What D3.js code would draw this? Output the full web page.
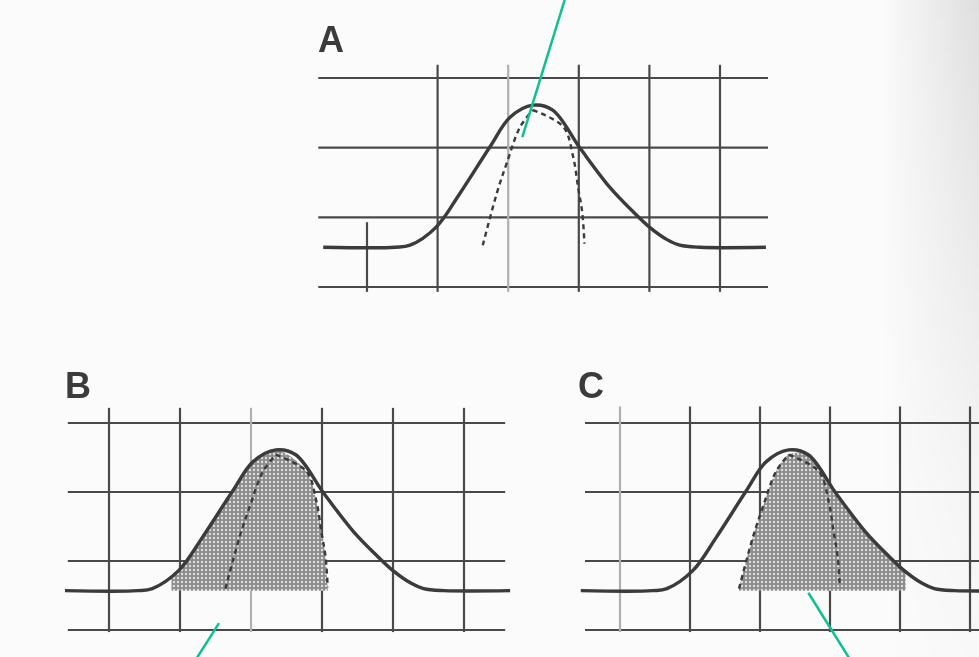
<!DOCTYPE html>
<html>
<head>
<meta charset="utf-8">
<script src="https://cdn.jsdelivr.net/npm/d3@7"></script>
<style>
  html, body { margin: 0; padding: 0; background: #fbfbfb; }
  svg { display: block; }
</style>
</head>
<body>
<svg id="chart" width="979" height="657"></svg>
<script>
// Broad bell-shaped response curve, in grid units (u across, v up)
const mainCurve = [
  [-0.62, 0.57], [0.40, 0.57], [0.61, 0.60], [0.98, 0.86], [1.32, 1.35],
  [1.74, 2.01], [2.03, 2.44], [2.35, 2.61], [2.63, 2.54], [3.02, 1.99],
  [3.44, 1.43], [3.77, 1.08], [4.00, 0.86], [4.25, 0.68], [4.43, 0.60],
  [4.72, 0.57], [5.65, 0.57]
];
// Narrow dashed curve sitting inside the broad one
const narrowLeft  = [[1.64, 0.60], [1.84, 1.35], [1.98, 1.78], [2.17, 2.30], [2.35, 2.54]];
const narrowRight = [[2.35, 2.54], [2.78, 2.30], [2.92, 1.87], [2.99, 1.43], [3.05, 1.06], [3.08, 0.62]];
const baseline = 0.57;

// Grid ticks
const uTicks = [0, 1, 2, 3, 4, 5];
const vTicks = [0, 1, 2, 3];

// Panel letters, which part of the curve is shaded, and the u-range of the shading
const panelNames = ["A", "B", "C"];
const shadedPart = [null, "left", "right"];
const shadedRange = [null, [0.88, 3.2], [1.5, 4.02]];

// Leader lines [panel, fromU, fromV, toU, toV]
const leaders = [
  ["A", 2.80, 4.12, 2.20, 2.15],
  ["B", 1.55, 0.10, 1.21, -0.45],
  ["C", 2.69, 0.54, 3.30, -0.45]
];

const svg = d3.select("#chart");
const defs = svg.append("defs");

// halftone screen used for the shading
const pat = defs.append("pattern").attr("id", "screen")
  .attr("patternUnits", "userSpaceOnUse").attr("width", 4).attr("height", 4);
pat.append("rect").attr("width", 4).attr("height", 4).attr("fill", "#8c8c8c");
pat.append("circle").attr("cx", 2).attr("cy", 2).attr("r", 1.2).attr("fill", "#dedede");

defs.append("filter").attr("id", "soft")
  .append("feGaussianBlur").attr("stdDeviation", 0.55);

// page shadow along the right edge
const grad = defs.append("linearGradient").attr("id", "edge")
  .attr("x1", 0).attr("x2", 1).attr("y1", 0).attr("y2", 0);
grad.append("stop").attr("offset", 0).attr("stop-color", "#000").attr("stop-opacity", 0);
grad.append("stop").attr("offset", 1).attr("stop-color", "#000").attr("stop-opacity", 0.11);
const vgrad = defs.append("linearGradient").attr("id", "edgeFade")
  .attr("x1", 0).attr("x2", 0).attr("y1", 0).attr("y2", 1);
vgrad.append("stop").attr("offset", 0).attr("stop-color", "#fff").attr("stop-opacity", 1);
vgrad.append("stop").attr("offset", 0.75).attr("stop-color", "#fff").attr("stop-opacity", 0.25);
vgrad.append("stop").attr("offset", 1).attr("stop-color", "#fff").attr("stop-opacity", 0.1);
defs.append("mask").attr("id", "edgeMask")
  .append("rect").attr("x", 880).attr("y", 0).attr("width", 99).attr("height", 657)
  .attr("fill", "url(#edgeFade)");

// panel layout
const panels = {
  A: { x: d3.scaleLinear().domain([0, 5]).range([367, 720]),
       y: d3.scaleLinear().domain([0, 3]).range([287, 78]),
       shift: 0, hExt: [-0.69, 5.68], vTop: 3.19, vBot: -0.07,
       faint: [2], short: [0], label: [318, 52] },
  B: { x: d3.scaleLinear().domain([0, 5]).range([109, 464]),
       y: d3.scaleLinear().domain([0, 3]).range([630, 423]),
       shift: 0, hExt: [-0.58, 5.58], vTop: 3.22, vBot: -0.03,
       faint: [2], short: [], label: [65, 398] },
  C: { x: d3.scaleLinear().domain([0, 5]).range([620, 970]),
       y: d3.scaleLinear().domain([0, 3]).range([630, 423]),
       shift: 0.06, hExt: [-0.5, 5.6], vTop: 3.24, vBot: -0.03,
       faint: [0], short: [], label: [578, 398] }
};

const root = svg.append("g").attr("filter", "url(#soft)");

panelNames.forEach((name, i) => {
  const p = panels[name];
  const g = root.append("g");
  const cx = u => p.x(u + p.shift);
  const line = d3.line().x(d => cx(d[0])).y(d => p.y(d[1])).curve(d3.curveCatmullRom.alpha(0.5));

  // horizontal grid
  g.selectAll(".h").data(vTicks).join("line")
    .attr("x1", p.x(p.hExt[0])).attr("x2", p.x(p.hExt[1]))
    .attr("y1", d => p.y(d)).attr("y2", d => p.y(d))
    .attr("stroke", "#4a4a4a").attr("stroke-width", 2.2);

  // vertical grid
  g.selectAll(".v").data(uTicks).join("line")
    .attr("x1", d => p.x(d)).attr("x2", d => p.x(d))
    .attr("y1", d => p.short.includes(d) ? p.y(0.93) : p.y(p.vTop))
    .attr("y2", p.y(p.vBot))
    .attr("stroke", d => p.faint.includes(d) ? "#b0b0b0" : "#4a4a4a")
    .attr("stroke-width", 2.2);

  // shaded portion
  if (shadedPart[i]) {
    let upper;
    if (shadedPart[i] === "left") {
      upper = mainCurve.filter(d => d[0] >= 0.61 && d[0] <= 2.35).concat(narrowRight.slice(1));
    } else {
      upper = narrowLeft.concat(mainCurve.filter(d => d[0] > 2.35 && d[0] <= 4.43));
    }
    const first = upper[0], last = upper[upper.length - 1];
    const r = shadedRange[i];
    const clipId = "clip" + name;
    defs.append("clipPath").attr("id", clipId).append("rect")
      .attr("x", cx(r[0])).attr("width", cx(r[1]) - cx(r[0]))
      .attr("y", p.y(3.5)).attr("height", p.y(0) - p.y(3.5));
    g.append("path")
      .attr("d", line(upper) + `L${cx(last[0])},${p.y(baseline)}L${cx(first[0])},${p.y(baseline)}Z`)
      .attr("fill", "url(#screen)").attr("stroke", "none")
      .attr("clip-path", `url(#${clipId})`);
  }

  // narrow curve, dashed
  [narrowLeft, narrowRight].forEach(seg => {
    g.append("path").attr("d", line(seg)).attr("fill", "none")
      .attr("stroke", "#3a3a3a").attr("stroke-width", 2.4).attr("stroke-dasharray", "5 4");
  });

  // broad curve
  g.append("path").attr("d", line(mainCurve)).attr("fill", "none")
    .attr("stroke", "#3a3a3a").attr("stroke-width", 3.4)
    .attr("stroke-linejoin", "round");

  // panel letter
  g.append("text").attr("x", p.label[0]).attr("y", p.label[1])
    .attr("font-family", "Liberation Sans, Arial, sans-serif")
    .attr("font-weight", "bold").attr("font-size", 36)
    .attr("fill", "#3a3a3a").text(name);
});

// leader lines
svg.append("g").selectAll("line").data(leaders).join("line")
  .attr("x1", d => panels[d[0]].x(d[1])).attr("y1", d => panels[d[0]].y(d[2]))
  .attr("x2", d => panels[d[0]].x(d[3])).attr("y2", d => panels[d[0]].y(d[4]))
  .attr("stroke", "#12c08e").attr("stroke-width", 2.5);

svg.append("rect").attr("x", 880).attr("y", 0).attr("width", 99).attr("height", 657)
  .attr("fill", "url(#edge)").attr("mask", "url(#edgeMask)");
</script>
</body>
</html>
